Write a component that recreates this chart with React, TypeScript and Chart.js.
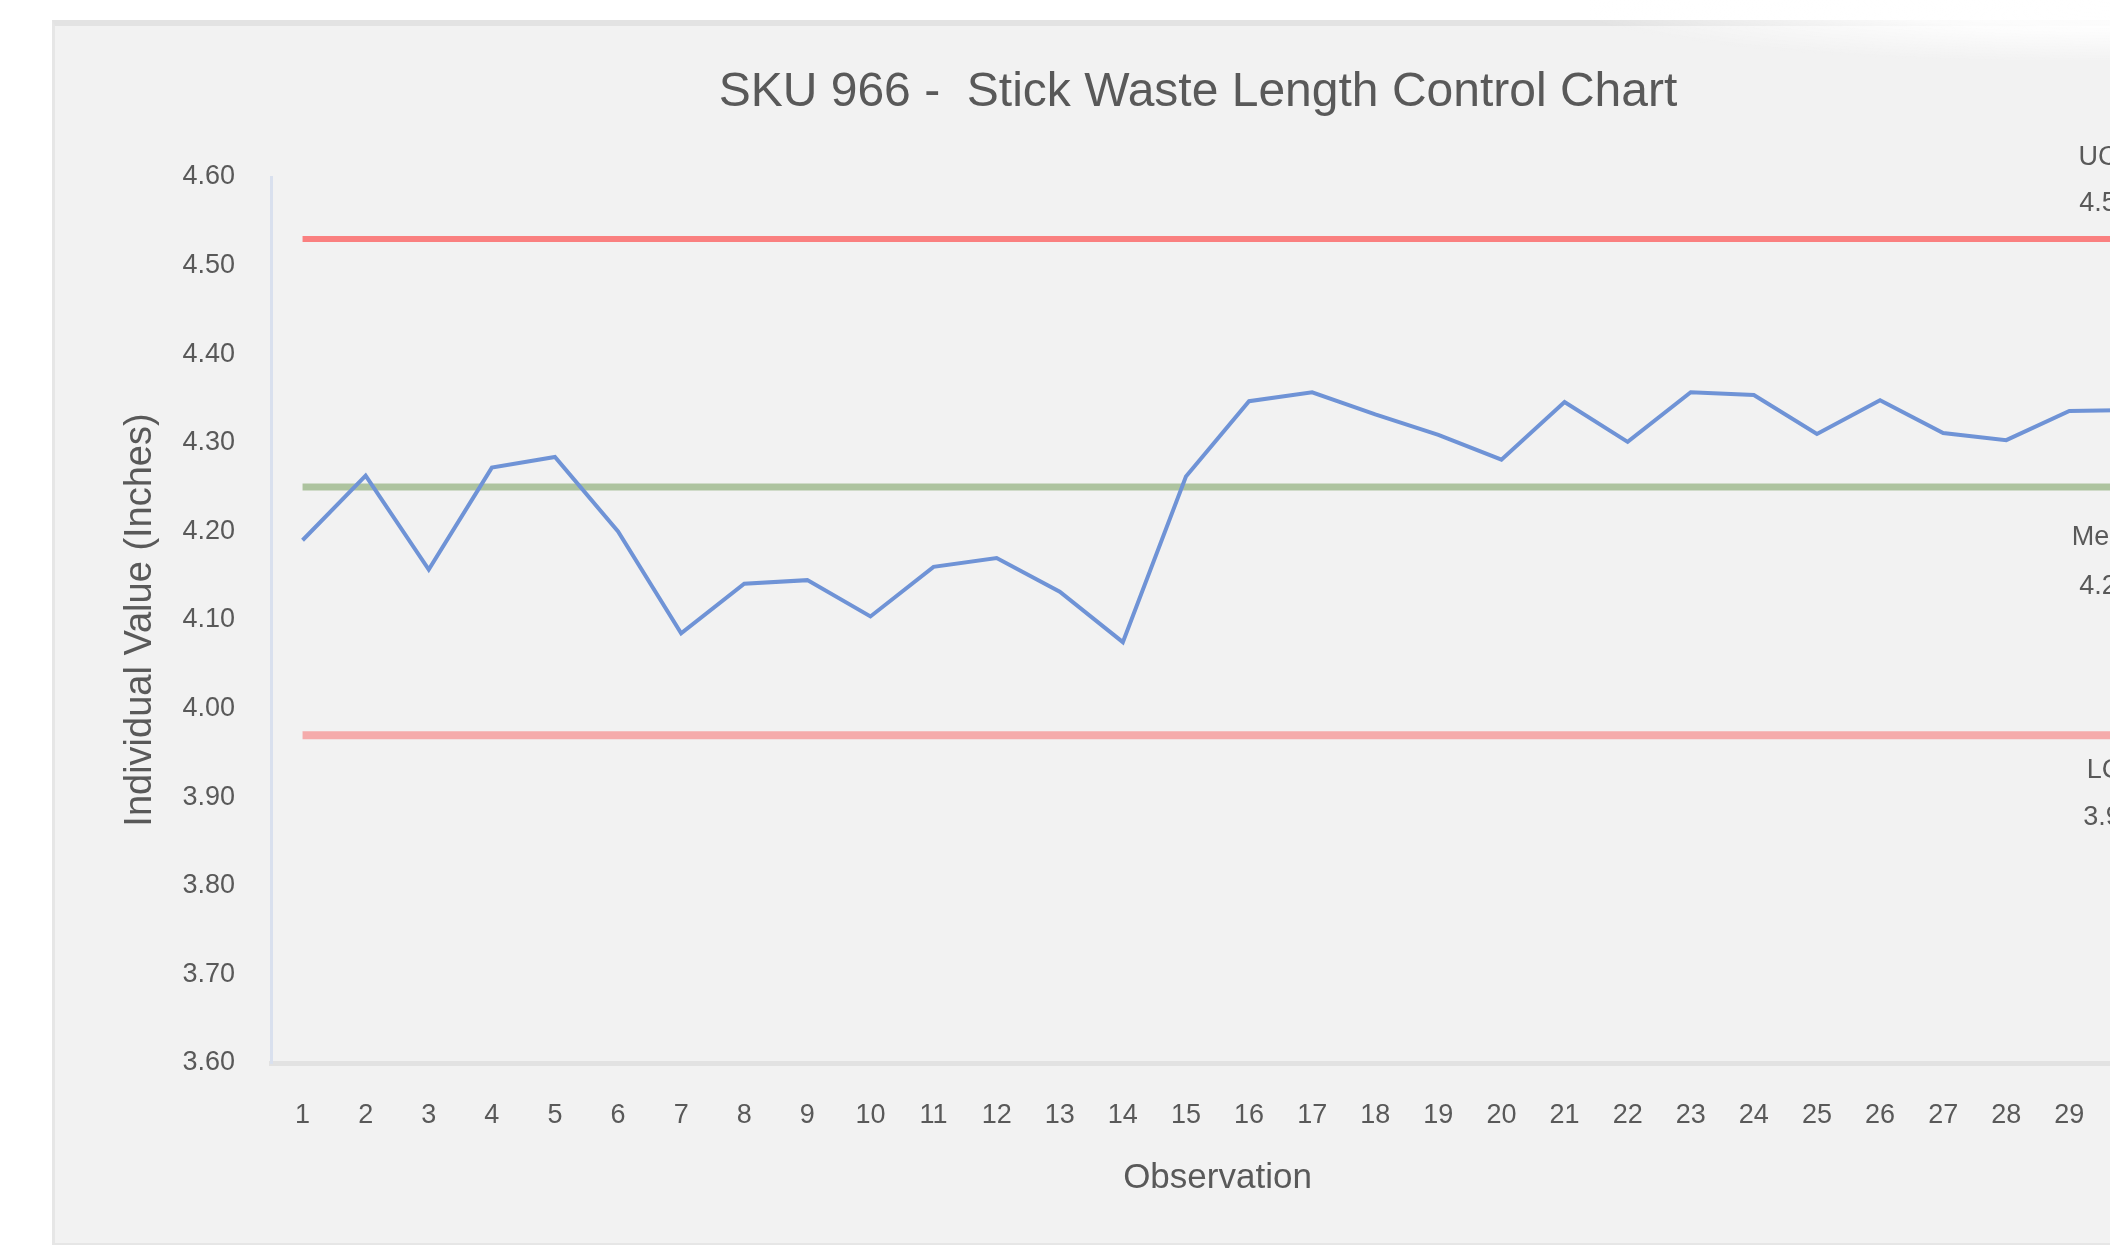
import React, { useEffect, useRef } from "react";
import { Chart, registerables } from "chart.js";

Chart.register(...registerables);

const TITLE = "SKU 966 -  Stick Waste Length Control Chart";
const X_TITLE = "Observation";
const Y_TITLE = "Individual Value (Inches)";

const observations = [
  "1", "2", "3", "4", "5", "6", "7", "8", "9", "10",
  "11", "12", "13", "14", "15", "16", "17", "18", "19", "20",
  "21", "22", "23", "24", "25", "26", "27", "28", "29", "30",
];

const individualValues = [
  4.19, 4.263, 4.157, 4.272, 4.284, 4.2, 4.085, 4.141, 4.145, 4.104,
  4.16, 4.17, 4.132, 4.075, 4.262, 4.347, 4.357, 4.332, 4.309, 4.281,
  4.346, 4.301, 4.357, 4.354, 4.31, 4.348, 4.311, 4.303, 4.336, 4.337,
];

const UCL = 4.53;
const MEAN = 4.25;
const LCL = 3.97;

const controlNames = ["UCL", "Mean", "LCL"];
const controlValues = [UCL, MEAN, LCL];

const Y_MIN = 3.6;
const Y_MAX = 4.6;
const Y_STEP = 0.1;

const FONT = '"Liberation Sans", Arial, sans-serif';
const TEXT = "#595959";

const CANVAS_W = 2292;
const CANVAS_H = 1225;

const controlLabelPlugin = {
  id: "controlLabels",
  afterDatasetsDraw(chart: any) {
    const { ctx, scales } = chart;
    const x = scales.x;
    const y = scales.y;
    const xc = x.getPixelForValue(observations.length - 1) - 27;
    const offsets = [
      [-81, -35],
      [50, 99],
      [35, 82],
    ];
    ctx.save();
    ctx.font = `27px ${FONT}`;
    ctx.fillStyle = TEXT;
    ctx.textAlign = "center";
    ctx.textBaseline = "middle";
    controlNames.forEach((name, i) => {
      const py = y.getPixelForValue(controlValues[i]);
      ctx.fillText(name, xc + (i === 2 ? 6 : 0), py + offsets[i][0]);
      ctx.fillText(controlValues[i].toFixed(2), xc + (i === 2 ? 4 : 0), py + offsets[i][1]);
    });
    ctx.restore();
  },
};

function limitLine(value: number) {
  return [
    { x: observations[0], y: value },
    { x: observations[observations.length - 1], y: value },
  ];
}

export default function App() {
  const ref = useRef<HTMLCanvasElement | null>(null);

  useEffect(() => {
    if (!ref.current) return;
    const chart = new Chart(ref.current, {
      type: "line",
      data: {
        labels: observations,
        datasets: [
          {
            label: "Individual Value",
            data: individualValues,
            borderColor: "#6f93d6",
            borderWidth: 4,
            pointRadius: 0,
            tension: 0,
          },
          {
            label: "UCL",
            data: limitLine(UCL) as any,
            borderColor: "#fa8080",
            borderWidth: 6,
            pointRadius: 0,
          },
          {
            label: "Mean",
            data: limitLine(MEAN) as any,
            borderColor: "#adc39f",
            borderWidth: 7,
            pointRadius: 0,
          },
          {
            label: "LCL",
            data: limitLine(LCL) as any,
            borderColor: "#f5abab",
            borderWidth: 8,
            pointRadius: 0,
          },
        ],
      },
      options: {
        responsive: false,
        animation: false,
        devicePixelRatio: 1,
        layout: { padding: 0 },
        plugins: {
          legend: { display: false },
          tooltip: { enabled: false },
          title: {
            display: true,
            text: TITLE,
            color: TEXT,
            font: { family: FONT, size: 48, weight: "normal" },
            padding: { top: 44, bottom: 55.4 },
          },
        },
        scales: {
          x: {
            type: "category",
            offset: true,
            grid: {
              display: true,
              color: "transparent",
              drawOnChartArea: false,
              drawTicks: true,
              tickLength: 36,
              tickColor: "transparent",
            },
            border: { display: true, color: "#e2e2e2", width: 5 },
            ticks: {
              color: TEXT,
              font: { family: FONT, size: 27 },
              padding: 0,
              maxRotation: 0,
              autoSkip: false,
            },
            title: {
              display: true,
              text: X_TITLE,
              color: TEXT,
              font: { family: FONT, size: 35 },
              padding: { top: 0, bottom: 46 },
            },
            afterFit(scale: any) {
              scale.height = 182;
            },
          },
          y: {
            type: "linear",
            min: Y_MIN,
            max: Y_MAX,
            grid: {
              display: true,
              color: "transparent",
              drawOnChartArea: false,
              drawTicks: false,
            },
            border: { display: true, color: "#d9e0ee", width: 3 },
            ticks: {
              stepSize: Y_STEP,
              color: TEXT,
              font: { family: FONT, size: 27 },
              padding: 36,
              callback: (v: any) => Number(v).toFixed(2),
            },
            title: {
              display: true,
              text: Y_TITLE,
              color: TEXT,
              font: { family: FONT, size: 38 },
              padding: { top: 66, bottom: 0 },
            },
            afterFit(scale: any) {
              scale.width = 219;
            },
          },
          yRight: {
            type: "linear",
            position: "right",
            min: Y_MIN,
            max: Y_MAX,
            grid: { display: false },
            border: { display: false },
            ticks: { display: false },
            afterFit(scale: any) {
              scale.width = 180;
            },
          },
        },
      },
      plugins: [controlLabelPlugin],
    });
    return () => chart.destroy();
  }, []);

  return (
    <div
      style={{
        position: "fixed",
        left: 0,
        top: 0,
        width: 2110,
        height: 1245,
        overflow: "hidden",
        background: "#ffffff",
      }}
    >
      <div
        style={{
          position: "absolute",
          left: 52,
          top: 20,
          width: CANVAS_W,
          height: CANVAS_H,
          boxSizing: "border-box",
          background: "#f2f2f2",
          borderTop: "6px solid #e3e3e3",
          borderLeft: "3px solid #e6e6e6",
          borderBottom: "2px solid #e6e6e6",
        }}
      />
      <canvas
        ref={ref}
        width={CANVAS_W}
        height={CANVAS_H}
        style={{
          position: "absolute",
          left: 52,
          top: 20,
          width: CANVAS_W,
          height: CANVAS_H,
        }}
      />
      <div
        style={{
          position: "absolute",
          right: 0,
          top: 0,
          width: 520,
          height: 60,
          background:
            "radial-gradient(ellipse at top right, rgba(255,255,255,1) 0%, rgba(255,255,255,0.85) 35%, rgba(255,255,255,0) 75%)",
          pointerEvents: "none",
        }}
      />
    </div>
  );
}
